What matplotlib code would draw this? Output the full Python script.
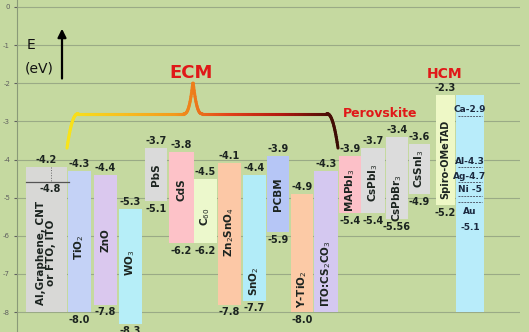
import numpy as np
import matplotlib
matplotlib.use("Agg")
import matplotlib.pyplot as plt
from matplotlib.collections import LineCollection
from matplotlib.colors import LinearSegmentedColormap

# materials, left to right
names = ["Al,Graphene, CNT\nor FTO, ITO", "TiO$_2$", "ZnO", "WO$_3$", "PbS", "CdS",
         "C$_{60}$", "Zn$_2$SnO$_4$", "SnO$_2$", "PCBM", "Y-TiO$_2$",
         "ITO:CS$_2$CO$_3$", "MAPbI$_3$", "CsPbI$_3$", "CsPbBr$_3$", "CsSnI$_3$",
         "Spiro-OMeTAD", ""]
top = [-4.2, -4.3, -4.4, -5.3, -3.7, -3.8, -4.5, -4.1, -4.4, -3.9, -4.9,
       -4.3, -3.9, -3.7, -3.4, -3.6, -2.3, -2.3]
bottom = [-8.0, -8.0, -7.8, -8.3, -5.1, -6.2, -6.2, -7.8, -7.7, -5.9, -8.0,
          -8.0, -5.4, -5.4, -5.56, -4.9, -5.2, -8.0]
top_lbl = ["-4.2", "-4.3", "-4.4", "-5.3", "-3.7", "-3.8", "-4.5", "-4.1", "-4.4",
           "-3.9", "-4.9", "-4.3", "-3.9", "-3.7", "-3.4", "-3.6", "-2.3", ""]
bot_lbl = ["", "-8.0", "-7.8", "-8.3", "-5.1", "-6.2", "-6.2", "-7.8", "-7.7",
           "-5.9", "-8.0", "", "-5.4", "-5.4", "-5.56", "-4.9", "-5.2", ""]
# where the name sits inside each bar
name_y = [-6.45, -6.3, -6.1, -6.7, -4.4, -4.8, -5.5, -5.9, -7.2, -4.9, -7.4,
          -7.0, -4.8, -4.6, -5.0, -4.25, -4.0, 0]

# metal work functions in the last column
metals = ["Ca-2.9", "Al-4.3", "Ag-4.7", "Ni -5", "Au"]
metal_lines = [-2.85, -4.2, -4.6, -4.95, -5.12]

# horizontal layout (x in pixel-like units)
xc = [46.5, 79.5, 105.5, 130.5, 156, 181.5, 205.5, 229.5, 254.5, 278, 302,
      326, 350, 373, 397, 419.5, 445.5, 470]
wd = [41, 23, 23, 23, 22, 25, 23, 23, 23, 22, 22, 24, 22, 24, 22, 21, 19, 28]
colors = ["#d8d8d6", "#c4d2f6", "#dac8ee", "#b6eef8", "#dadada", "#fdc2c8",
          "#ecf8cc", "#fcc8a6", "#b2ecf8", "#b6c6f6", "#fccaa6", "#d4c8f0",
          "#fcc0c8", "#dcdcdc", "#dcdcdc", "#dcdcdc", "#eef8c6", "#b8ecfa"]

bg = "#c5d9a0"
fig = plt.figure(figsize=(5.29, 3.32), dpi=100, facecolor=bg)
ax = fig.add_axes([17 / 529, 0, 503 / 529, 1])
ax.set_facecolor(bg)
ax.set_xlim(17, 520)
ax.set_ylim(-8.52, 0.18)

for s in ["top", "right", "bottom"]:
    ax.spines[s].set_visible(False)
ax.spines["left"].set_color("#8a9a78")
ax.set_yticks(range(-8, 1))
ax.set_yticklabels([str(v) for v in range(-8, 1)])
ax.tick_params(axis="y", labelsize=5, colors="#606060", length=2, pad=3)
ax.set_xticks([])
ax.yaxis.grid(True, color="#9aaa86", lw=0.8)
ax.set_axisbelow(True)

txt = "#1c2420"
for i in range(len(names)):
    ax.bar(xc[i], top[i] - bottom[i], width=wd[i], bottom=bottom[i],
           color=colors[i], edgecolor="none", zorder=2)
    if names[i]:
        fs = 7 if names[i] == "Spiro-OMeTAD" else 7.5
        ax.text(xc[i], name_y[i], names[i], rotation=90, ha="center", va="center",
                fontsize=fs, fontweight="bold", color=txt, zorder=4,
                linespacing=1.0)
    if top_lbl[i]:
        ax.text(xc[i], top[i] + 0.05, top_lbl[i], ha="center", va="bottom",
                fontsize=7, fontweight="bold", color=txt, zorder=4)
    if bot_lbl[i]:
        ax.text(xc[i], bottom[i] - 0.07, bot_lbl[i], ha="center", va="top",
                fontsize=7, fontweight="bold", color=txt, zorder=4)

# electrode bar: work-function line and dotted marker
ax.plot([xc[0] - wd[0] / 2, xc[0] + wd[0] / 2 + 2], [-4.6, -4.6], color="#555555",
        lw=0.9, zorder=3)
ax.plot([xc[0] + 4, xc[0] + 4], [-4.2, -4.6], color="#666666", lw=0.7, ls=":", zorder=3)
ax.text(xc[0] + 4, -4.63, "-4.8", ha="center", va="top", fontsize=7,
        fontweight="bold", color=txt, zorder=4)

# metals column
m = len(names) - 1
for lab, yv in zip(metals, metal_lines):
    ax.plot([xc[m] - wd[m] / 2 + 2, xc[m] + wd[m] / 2 - 2], [yv, yv],
            color="#556070", lw=0.7, ls=(0, (2, 1)), zorder=3)
    if lab != "Au":
        ax.text(xc[m], yv + 0.04, lab, ha="center", va="bottom", fontsize=6.5,
                fontweight="bold", color="#1c2a40", zorder=4)
ax.text(xc[m], metal_lines[-1] - 0.12, "Au", ha="center", va="top", fontsize=6.5,
        fontweight="bold", color="#1c2a40", zorder=4)
ax.text(xc[m], metal_lines[-1] - 0.55, "-5.1", ha="center", va="top", fontsize=6.5,
        fontweight="bold", color="#1c2a40", zorder=4)

# energy axis label and arrow
ax.annotate("", xy=(62, -0.5), xytext=(62, -1.95),
            arrowprops=dict(arrowstyle="-|>,head_width=0.25,head_length=0.5",
                            color="black", lw=1.6))
ax.text(27, -1.0, "E", fontsize=10, va="center", ha="left", color="#111111")
ax.text(25, -1.62, "(eV)", fontsize=10, va="center", ha="left", color="#111111")

# ECM bracket with colour gradient
px, py = [], []
for xv in np.linspace(67, 338, 600):
    yv = -2.8
    if xv < 78:
        yv = -2.8 - 0.9 * ((78 - xv) / 11) ** 2.2
    elif xv > 327:
        yv = -2.8 - 0.9 * ((xv - 327) / 11) ** 2.2
    d = abs(xv - 193)
    if d < 9:
        yv += 0.85 * (1 - d / 9) ** 2.5
    px.append(xv)
    py.append(yv)
pts = np.array([px, py]).T.reshape(-1, 1, 2)
segs = np.concatenate([pts[:-1], pts[1:]], axis=1)
cmap = LinearSegmentedColormap.from_list(
    "br", ["#f8e41a", "#f8c020", "#f39a1c", "#e2421a", "#b01810", "#3a0c04"])
lc = LineCollection(segs, cmap=cmap, lw=2.2, zorder=5, capstyle="round")
lc.set_array(np.linspace(0, 1, len(segs)))
ax.add_collection(lc)

red = "#e01818"
ax.text(191, -1.72, "ECM", fontsize=13, fontweight="bold", color=red,
        ha="center", va="center")
ax.text(380, -2.8, "Perovskite", fontsize=9, fontweight="bold", color=red,
        ha="center", va="center")
ax.text(445, -1.75, "HCM", fontsize=10, fontweight="bold", color=red,
        ha="center", va="center")

fig.savefig("out.png", dpi=100, facecolor=bg)
